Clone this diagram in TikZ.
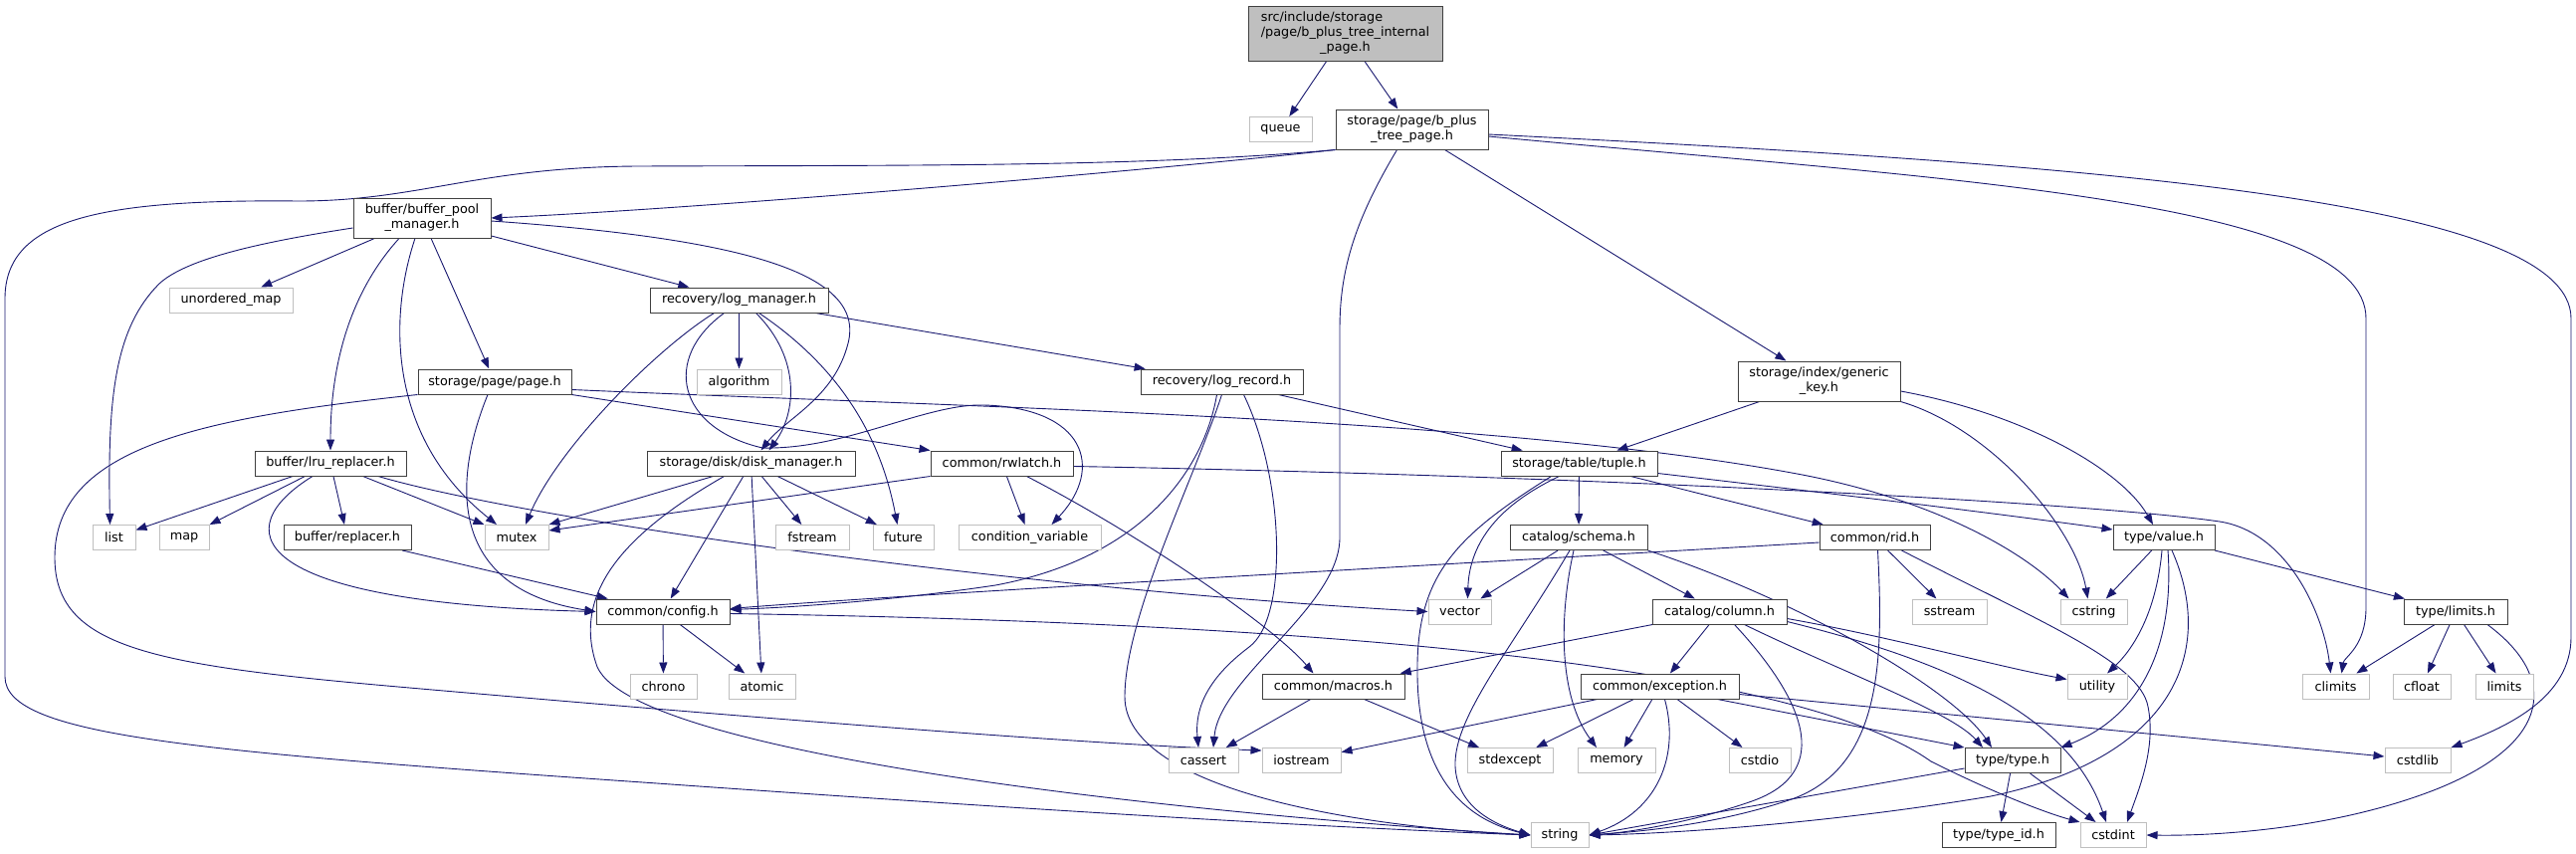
\documentclass[tikz,border=0pt]{standalone}
\usepackage{fontspec}
\setmainfont{DejaVu Sans}
\usetikzlibrary{arrows.meta}
\definecolor{edgeblue}{HTML}{191970}
\definecolor{sysgray}{HTML}{BFBFBF}
\definecolor{bordgray}{HTML}{404040}
\definecolor{rootfill}{HTML}{BFBFBF}
\pgfdeclarelayer{back}
\pgfdeclarelayer{bg}
\pgfsetlayers{back,bg,main}
\begin{document}
\begin{tikzpicture}[x=1pt,y=-1pt,
  base/.style={rectangle, inner sep=0pt, line width=1pt, font=\fontsize{12.8}{15}\selectfont, text=black, minimum height=25pt, align=center},
  nd/.style={base, draw=bordgray, fill=white},
  sys/.style={base, draw=sysgray, fill=white},
  edg/.style={draw=edgeblue, line width=0.9pt, -{Triangle[length=11pt,width=8pt]}},
]
\useasboundingbox (0,0) rectangle (2588,857);
\begin{pgfonlayer}{back}
\fill[white] (0,0) rectangle (2588,857);
\end{pgfonlayer}

\node[nd, fill=rootfill, minimum width=195pt, minimum height=55pt] (root) at (1351.5,33.5) {\begin{tabular}{@{}l@{}}src/include/storage\\/page/b\_plus\_tree\_internal\\\multicolumn{1}{@{}c@{}}{\_page.h}\end{tabular}};
\node[sys, minimum width=63pt] (queue) at (1286.5,130) {queue};
\node[nd, minimum width=153pt, minimum height=40pt] (bplus) at (1418.5,130) {storage/page/b\_plus\\\_tree\_page.h};
\node[nd, minimum width=138pt, minimum height=40pt] (bpm) at (424,219) {buffer/buffer\_pool\\\_manager.h};
\node[nd, minimum width=163pt, minimum height=40pt] (gkey) at (1827.5,383) {storage/index/generic\\\_key.h};
\node[sys, minimum width=124pt] (umap) at (232,301.5) {unordered\_map};
\node[nd, minimum width=179pt] (logm) at (742.5,301.5) {recovery/log\_manager.h};
\node[nd, minimum width=154pt] (page) at (497,383.5) {storage/page/page.h};
\node[sys, minimum width=85pt] (algo) at (742.5,383.5) {algorithm};
\node[nd, minimum width=163pt] (logr) at (1227.5,383.5) {recovery/log\_record.h};
\node[nd, minimum width=152pt] (lru) at (332,465.5) {buffer/lru\_replacer.h};
\node[nd, minimum width=209pt] (disk) at (754.5,465.5) {storage/disk/disk\_manager.h};
\node[nd, minimum width=143pt] (rwl) at (1006.5,465.5) {common/rwlatch.h};
\node[nd, minimum width=157pt] (tuple) at (1586.5,465.5) {storage/table/tuple.h};
\node[sys, minimum width=43pt] (list) at (114.5,540) {list};
\node[sys, minimum width=50pt] (map) at (185,540) {map};
\node[nd, minimum width=128pt] (repl) at (349,540) {buffer/replacer.h};
\node[sys, minimum width=64pt] (mutex) at (519,540) {mutex};
\node[sys, minimum width=74pt] (fstream) at (816,540) {fstream};
\node[sys, minimum width=61pt] (future) at (907.5,540) {future};
\node[sys, minimum width=143pt] (condvar) at (1034.5,540) {condition\_variable};
\node[nd, minimum width=138pt] (schema) at (1586,540) {catalog/schema.h};
\node[nd, minimum width=111pt] (rid) at (1883.5,540) {common/rid.h};
\node[nd, minimum width=102pt] (value) at (2174,540) {type/value.h};
\node[nd, minimum width=134pt] (config) at (666,614.5) {common/config.h};
\node[sys, minimum width=63pt] (vector) at (1466.5,614.5) {vector};
\node[nd, minimum width=135pt] (column) at (1727.5,614.5) {catalog/column.h};
\node[sys, minimum width=75pt] (sstream) at (1958.5,614.5) {sstream};
\node[sys, minimum width=67pt] (cstring) at (2103.5,614.5) {cstring};
\node[nd, minimum width=104pt] (limh) at (2467,614.5) {type/limits.h};
\node[sys, minimum width=67pt] (chrono) at (666.5,689.5) {chrono};
\node[sys, minimum width=67pt] (atomic) at (765.5,689.5) {atomic};
\node[nd, minimum width=143pt] (macros) at (1339.5,689.5) {common/macros.h};
\node[nd, minimum width=159pt] (exc) at (1667.5,689.5) {common/exception.h};
\node[sys, minimum width=60pt] (utility) at (2107,689.5) {utility};
\node[sys, minimum width=67pt] (climits) at (2346.5,689.5) {climits};
\node[sys, minimum width=58pt] (cfloat) at (2433,689.5) {cfloat};
\node[sys, minimum width=58pt] (limits) at (2516,689.5) {limits};
\node[sys, minimum width=70pt] (cassert) at (1209,764) {cassert};
\node[sys, minimum width=79pt] (iostream) at (1307.5,764) {iostream};
\node[sys, minimum width=86pt] (stdexc) at (1517,764) {stdexcept};
\node[sys, minimum width=78pt] (memory) at (1624,764) {memory};
\node[sys, minimum width=62pt] (cstdio) at (1768,764) {cstdio};
\node[nd, minimum width=96pt] (type) at (2022,764) {type/type.h};
\node[sys, minimum width=66pt] (cstdlib) at (2429,764) {cstdlib};
\node[sys, minimum width=58pt] (string) at (1567,839) {string};
\node[nd, minimum width=114pt] (typeid) at (2008,839) {type/type\_id.h};
\node[sys, minimum width=66pt] (cstdint) at (2123,839) {cstdint};

\begin{pgfonlayer}{bg}
% root
\draw[edg] (root) -- (queue);
\draw[edg] (root) -- (bplus);
% b_plus_tree_page
\draw[edg] (bplus.south west) .. controls (1150,172) and (700,210) .. (bpm.east);
\draw[edg] (bplus.south west) .. controls (1150,168) and (900,166) .. (640,167) .. controls (480,168) and (420,202) .. (300,202) .. controls (100,200) and (5,220) .. (5,300) -- (5,680) .. controls (5,740) and (200,755) .. (660,787) .. controls (1000,811) and (1300,830) .. (string.west);
\draw[edg] ([xshift=-15pt]bplus.south) .. controls (1362,220) and (1346,270) .. (1346,330) -- (1346,540) .. controls (1346,610) and (1225,680) .. ([xshift=10pt]cassert.north);
\draw[edg] ([yshift=-7pt]bplus.east) .. controls (1950,180) and (2377,200) .. (2377,320) -- (2377,610) .. controls (2377,650) and (2355,660) .. ([xshift=6pt]climits.north);
\draw[edg] ([yshift=-5pt]bplus.east) .. controls (2100,165) and (2583,200) .. (2583,320) -- (2583,640) .. controls (2583,700) and (2520,730) .. (cstdlib.north east);
\draw[edg] (bplus) -- (gkey);
% buffer_pool_manager
\draw[edg] (bpm) -- (umap);
\draw[edg] ([yshift=-10pt]bpm.west) .. controls (250,245) and (185,262) .. (160,285) .. controls (115,330) and (108,400) .. ([xshift=-4pt]list.north);
\draw[edg] ([xshift=-23pt]bpm.south) .. controls (355,290) and (332,360) .. (lru.north);
\draw[edg] ([xshift=-7pt]bpm.south) .. controls (390,320) and (390,440) .. ([xshift=-20pt]mutex.north);
\draw[edg] (bpm) -- (page);
\draw[edg] (bpm) -- (logm);
\draw[edg] ([yshift=-3pt]bpm.east) .. controls (750,240) and (870,275) .. (852,345) .. controls (838,400) and (790,420) .. ([xshift=10pt]disk.north);
% lru_replacer
\draw[edg] (lru) -- (list);
\draw[edg] (lru) -- (map);
\draw[edg] (lru) -- (repl);
\draw[edg] (lru) -- (mutex);
\draw[edg] ([xshift=48pt]lru.south) .. controls (520,520) and (1000,590) .. (vector.west);
\draw[edg] ([xshift=-18pt]lru.south) .. controls (230,530) and (240,605) .. (config.west);
\draw[edg] (repl) -- (config);
% log_manager
\draw[edg] (logm) -- (algo);
\draw[edg] (logm) -- (logr);
\draw[edg] ([xshift=-25pt]logm.south) .. controls (660,350) and (560,450) .. ([xshift=9pt]mutex.north);
\draw[edg] ([xshift=17pt]logm.south) .. controls (805,360) and (800,415) .. ([xshift=18pt]disk.north);
\draw[edg] ([xshift=20pt]logm.south) .. controls (845,370) and (885,440) .. ([xshift=-6pt]future.north);
\draw[edg] ([xshift=-15pt]logm.south) .. controls (665,360) and (680,430) .. (766,450) .. controls (850,452) and (930,405) .. (989,407) .. controls (1090,410) and (1110,470) .. ([xshift=22pt]condvar.north);
% page
\draw[edg] (page.south west) .. controls (200,420) and (55,450) .. (55,560) .. controls (55,650) and (150,668) .. (400,690) .. controls (800,725) and (1100,748) .. ([yshift=10pt]iostream.west);
\draw[edg] ([xshift=-7pt]page.south) .. controls (460,470) and (440,590) .. (config.west);
\draw[edg] (page.south east) -- (rwl.north west);
\draw[edg] ([yshift=-8pt]page.east) .. controls (1000,410) and (1500,420) .. (1800,475) .. controls (1950,502) and (2040,560) .. ([xshift=-25pt]cstring.north);
% disk_manager
\draw[edg] ([xshift=-38pt]disk.south) -- (mutex.north east);
\draw[edg] ([xshift=-27pt]disk.south) .. controls (620,540) and (575,600) .. (600,670) .. controls (640,760) and (1200,818) .. (string.west);
\draw[edg] (disk) -- (config);
\draw[edg] (disk) -- (atomic);
\draw[edg] (disk) -- (fstream);
\draw[edg] (disk) -- (future);
% rwlatch
\draw[edg] (rwl) -- (condvar);
\draw[edg] ([xshift=25pt]rwl.south) .. controls (1150,540) and (1280,630) .. ([xshift=-20pt]macros.north);
\draw[edg] (rwl.south west) -- ([yshift=-6pt]mutex.north east);
\draw[edg] ([yshift=-3pt]rwl.east) .. controls (1600,478) and (2100,505) .. (2230,524) .. controls (2300,535) and (2335,620) .. ([xshift=-5pt]climits.north);
% config
\draw[edg] (config) -- (chrono);
\draw[edg] (config) -- (atomic);
\draw[edg] ([yshift=-2pt]config.east) .. controls (1300,625) and (1800,665) .. (1940,765) .. controls (2010,800) and (2060,818) .. (cstdint.north west);
% macros
\draw[edg] (macros) -- (cassert);
\draw[edg] (macros) -- (stdexc);
% log_record
\draw[edg] ([xshift=-5pt]logr.south) .. controls (1210,470) and (1150,560) .. (1000,588) .. controls (900,603) and (800,610) .. ([yshift=2pt]config.east);
\draw[edg] (logr.south) .. controls (1200,480) and (1130,620) .. (1130,700) .. controls (1130,790) and (1350,830) .. (string.west);
\draw[edg] ([xshift=22pt]logr.south) .. controls (1290,480) and (1295,620) .. (1255,650) .. controls (1215,680) and (1200,710) .. ([xshift=-5pt]cassert.north);
\draw[edg] (logr) -- (tuple);
% generic_key
\draw[edg] (gkey) -- (tuple);
\draw[edg] (gkey.south east) .. controls (2000,430) and (2085,530) .. ([xshift=-6pt]cstring.north);
\draw[edg] ([yshift=-10pt]gkey.east) .. controls (2030,415) and (2130,470) .. ([xshift=-11pt]value.north);
% tuple
\draw[edg] (tuple) -- (schema);
\draw[edg] (tuple) -- (rid);
\draw[edg] ([yshift=-10pt]tuple.east) .. controls (1850,497) and (2000,515) .. ([yshift=8pt]value.west);
\draw[edg] ([xshift=-20pt]tuple.south) .. controls (1500,510) and (1476,550) .. ([xshift=8pt]vector.north);
\draw[edg] ([xshift=-28pt]tuple.south) .. controls (1460,540) and (1422,580) .. (1424,680) .. controls (1426,790) and (1480,825) .. (string.west);
% schema
\draw[edg] (schema) -- (vector);
\draw[edg] ([xshift=-9pt]schema.south) .. controls (1520,650) and (1460,720) .. (1462,770) .. controls (1464,810) and (1500,828) .. (string.west);
\draw[edg] ([xshift=-5pt]schema.south) .. controls (1566,620) and (1566,700) .. ([xshift=-20pt]memory.north);
\draw[edg] (schema) -- (column);
\draw[edg] (schema.south east) .. controls (1800,600) and (1960,690) .. ([xshift=-21pt]type.north);
% rid
\draw[edg] (rid) -- (sstream);
\draw[edg] ([xshift=3pt]rid.south) .. controls (1892,660) and (1892,770) .. (1800,803) .. controls (1720,830) and (1640,836) .. (string.east);
\draw[edg] ([xshift=27pt]rid.south) .. controls (2050,625) and (2150,665) .. (2158,710) .. controls (2166,750) and (2150,790) .. ([xshift=14pt]cstdint.north);
\draw[edg] ([yshift=-5pt]rid.west) .. controls (1400,570) and (900,598) .. ([yshift=3pt]config.east);
% column
\draw[edg] (column) -- (macros);
\draw[edg] (column) -- (exc);
\draw[edg] ([xshift=15pt]column.south) .. controls (1810,700) and (1845,775) .. (1760,805) .. controls (1700,826) and (1640,836) .. (string.east);
\draw[edg] ([xshift=25pt]column.south) .. controls (1850,675) and (1960,715) .. ([xshift=-30pt]type.north);
\draw[edg] ([yshift=-7pt]column.east) .. controls (1900,640) and (2000,668) .. ([yshift=7pt]utility.west);
\draw[edg] ([yshift=-10pt]column.east) .. controls (1960,665) and (2080,720) .. ([xshift=-7pt]cstdint.north);
% exception
\draw[edg] (exc) -- (iostream);
\draw[edg] (exc) -- (stdexc);
\draw[edg] (exc) -- (memory);
\draw[edg] ([xshift=5pt]exc.south) .. controls (1688,760) and (1665,815) .. (string.east);
\draw[edg] (exc) -- (cstdio);
\draw[edg] ([xshift=58pt]exc.south) -- (type.north west);
\draw[edg] ([yshift=-8pt]exc.east) -- ([yshift=4pt]cstdlib.west);
% value
\draw[edg] (value) -- (cstring);
\draw[edg] ([xshift=-2pt]value.south) .. controls (2166,620) and (2140,655) .. ([xshift=10pt]utility.north);
\draw[edg] ([xshift=4pt]value.south) .. controls (2185,650) and (2150,720) .. (type.north east);
\draw[edg] ([xshift=8pt]value.south) .. controls (2225,650) and (2190,760) .. (2000,800) .. controls (1820,830) and (1660,838) .. (string.east);
\draw[edg] (value) -- (limh);
% type
\draw[edg] (type) -- (typeid);
\draw[edg] (type) -- (cstdint);
\draw[edg] ([yshift=-8pt]type.west) -- (string.east);
% limits
\draw[edg] (limh) -- (climits);
\draw[edg] (limh) -- (cfloat);
\draw[edg] (limh) -- (limits);
\draw[edg] ([xshift=32pt]limh.south) .. controls (2570,680) and (2565,745) .. (2450,792) .. controls (2350,832) and (2230,840) .. (cstdint.east);
\end{pgfonlayer}
\end{tikzpicture}
\end{document}
